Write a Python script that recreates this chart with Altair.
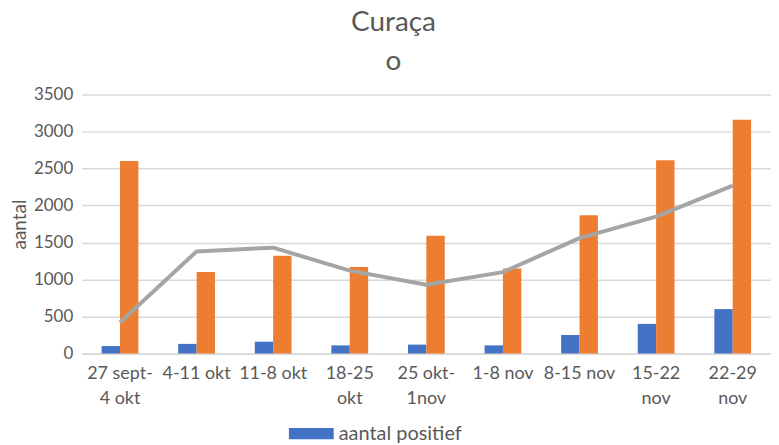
import altair as alt
import pandas as pd

categories = ["27 sept-|4 okt", "4-11 okt", "11-8 okt", "18-25|okt", "25 okt-|1nov",
              "1-8 nov", "8-15 nov", "15-22|nov", "22-29|nov"]
series = ["aantal positief", "aantal getest"]
positief = [100, 130, 160, 110, 120, 110, 250, 400, 600]
getest = [2600, 1100, 1320, 1170, 1590, 1150, 1870, 2610, 3160]
lijn = [420, 1380, 1430, 1120, 930, 1100, 1560, 1850, 2270]
y_ticks = [0, 500, 1000, 1500, 2000, 2500, 3000, 3500]
title_main = "Curaça"
title_sub = "o"

FONT = "Lato"
TXT = "#595959"

bars_df = pd.DataFrame({
    "periode": categories * 2,
    "reeks": [series[0]] * len(categories) + [series[1]] * len(categories),
    "aantal": positief + getest,
})
line_df = pd.DataFrame({"periode": categories, "aantal": lijn})

x_enc = alt.X(
    "periode:N", sort=categories,
    scale=alt.Scale(paddingInner=0.52, paddingOuter=0.26),
    axis=alt.Axis(title=None, labelAngle=0, labelExpr="split(datum.label, '|')",
                  labelFontSize=18, labelColor=TXT, labelFont=FONT, labelLineHeight=25,
                  labelPadding=11, ticks=False, domainColor="#D9D9D9", domainWidth=1.5,
                  labelBaseline="top"),
)
y_enc = alt.Y(
    "aantal:Q", scale=alt.Scale(domain=[0, 3500], nice=False),
    axis=alt.Axis(values=y_ticks, format="d", labelOverlap=False, title="aantal", grid=True,
                  gridColor="#D9D9D9", gridWidth=1.5, domain=False, ticks=False,
                  labelFontSize=17, labelColor=TXT, labelFont=FONT, labelPadding=9,
                  titleFontSize=19, titleFont=FONT, titleFontWeight="normal",
                  titleColor=TXT, titlePadding=4),
)

bars = alt.Chart(bars_df).mark_bar().encode(
    x=x_enc,
    y=y_enc,
    xOffset=alt.XOffset("reeks:N", sort=series, scale=alt.Scale(paddingInner=0, paddingOuter=0)),
    color=alt.Color(
        "reeks:N", scale=alt.Scale(domain=series, range=["#4472C4", "#ED7D31"]),
        legend=alt.Legend(values=["aantal positief"], title=None, orient="none",
                          legendX=219, legendY=329, symbolType="M-2,-0.5H2V0.5H-2Z",
                          symbolSize=506, symbolStrokeWidth=0, labelFontSize=20,
                          labelColor=TXT, labelFont=FONT, labelOffset=16),
    ),
)

line = alt.Chart(line_df).mark_line(color="#A5A5A5", strokeWidth=4, strokeJoin="round").encode(
    x=alt.X("periode:N", sort=categories),
    y=y_enc,
)

chart = alt.layer(bars, line).properties(
    width=692, height=260,
    title=alt.TitleParams(text=title_main, subtitle=title_sub, fontSize=28, subtitleFontSize=28,
                          font=FONT, subtitleFont=FONT, fontWeight="normal",
                          subtitleFontWeight="normal", color=TXT, subtitleColor=TXT,
                          subtitlePadding=11, anchor="middle", dx=-33, offset=10),
    padding={"left": 2, "top": 0, "right": 0, "bottom": 0},
).configure_view(stroke=None)

chart.save("out.html", embed_options={"renderer": "svg", "actions": False})
